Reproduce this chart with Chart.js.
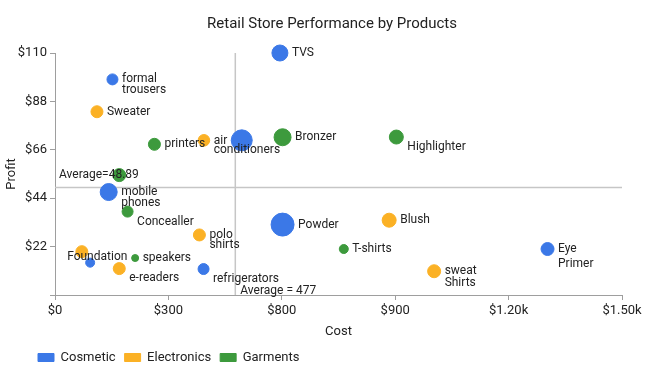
<!DOCTYPE html>
<html>
<head>
<meta charset="utf-8">
<script src="https://cdn.jsdelivr.net/npm/chart.js@4"></script>
<style>
  html, body { margin: 0; padding: 0; background: #fff; }
</style>
</head>
<body>
<canvas id="chart" width="650" height="378"></canvas>
<script>
// ---- data ----
const categories = ['Cosmetic', 'Electronics', 'Garments'];

const cosmeticNames  = ['TVS', 'formal\ntrousers', '', 'mobile\nphones', 'Foundation', 'refrigerators', 'Powder', 'Eye\nPrimer'];
const cosmeticCost   = [595, 152, 494, 142, 93, 393, 602, 1303];
const cosmeticProfit = [110, 98, 70.3, 46.8, 14.7, 11.8, 32, 20.9];
const cosmeticVolume = [80, 55, 105, 85, 45, 55, 115, 65];

const electronicsNames  = ['Sweater', 'air\nconditioners', 'polo\nshirts', '', 'e-readers', 'Blush', 'sweat\nShirts'];
const electronicsCost   = [111, 394, 382, 71, 170, 884, 1003];
const electronicsProfit = [83.3, 70.3, 27.3, 19.7, 12, 34, 10.8];
const electronicsVolume = [60, 58, 60, 60, 60, 70, 65];

const garmentsNames  = ['printers', 'Bronzer', 'Highlighter', '', 'Concealler', 'speakers', 'T-shirts'];
const garmentsCost   = [263, 602, 903, 170, 192, 212, 764];
const garmentsProfit = [68.5, 71.7, 71.8, 54.5, 37.9, 16.8, 20.9];
const garmentsVolume = [60, 85, 70, 65, 55, 35, 45];

const xTickLabels = ['$0', '$300', '$800', '$900', '$1.20k', '$1.50k'];
const yTickLabels = ['', '$22', '$44', '$66', '$88', '$110'];

const avgCost = 477;
const avgProfit = 48.89;

// ---- styling ----
const colors = ['#3b78e7', '#fbb125', '#3d9a3d'];
const allNames = [cosmeticNames, electronicsNames, garmentsNames];

// label tweaks where the reference doesn't put text straight to the right
const nudges = {
  'air conditioners': { dy: 1, lh: 9 },
  'Highlighter': { dy: 10 },
  'Concealler': { dy: 10 },
  'Foundation': { dx: -23, dy: -6 },
  'e-readers': { dy: 9 },
  'refrigerators': { dy: 10 },
  'sweat Shirts': { lh: 11.5 },
  'Eye Primer': { lh: 15 }
};

function points(cost, profit, volume) {
  return cost.map((c, i) => ({ x: c, y: profit[i], r: volume[i] / 10 }));
}

Chart.defaults.font.family = 'Roboto';
Chart.defaults.color = '#222';

const overlay = {
  id: 'overlay',
  afterLayout(chart) {
    // let the y axis labels and title use the space left of the layout padding
    chart.scales.y.left = 4;
  },
  beforeDatasetsDraw(chart) {
    const { ctx, chartArea: a, scales: { x, y } } = chart;
    const px = x.getPixelForValue(avgCost);
    const py = y.getPixelForValue(avgProfit);
    ctx.save();
    ctx.strokeStyle = '#c6c6c6';
    ctx.lineWidth = 1.5;
    ctx.beginPath();
    ctx.moveTo(px, a.top); ctx.lineTo(px, a.bottom);
    ctx.moveTo(a.left, py); ctx.lineTo(a.right, py);
    ctx.stroke();
    ctx.restore();
  },
  afterDatasetsDraw(chart) {
    const { ctx, chartArea: a, scales: { x, y } } = chart;
    ctx.save();
    ctx.font = '12px Roboto';
    ctx.fillStyle = '#222';
    ctx.textAlign = 'left';
    ctx.textBaseline = 'middle';

    // bubble labels
    chart.data.datasets.forEach((ds, di) => {
      const meta = chart.getDatasetMeta(di);
      meta.data.forEach((el, i) => {
        const text = allNames[di][i];
        if (!text) return;
        const n = nudges[text.replace('\n', ' ')] || {};
        const r = ds.data[i].r;
        const lx = el.x + (n.dx !== undefined ? n.dx : r + 4);
        const ly = el.y + (n.dy || 0);
        text.split('\n').forEach((ln, k) => ctx.fillText(ln, lx, ly + k * (n.lh || 10.5)));
      });
    });

    // average labels
    const px = x.getPixelForValue(avgCost);
    const py = y.getPixelForValue(avgProfit);
    ctx.fillText('Average=' + avgProfit, a.left + 4, py - 12.5);
    ctx.fillText('Average = ' + avgCost, px + 5, a.bottom - 4);
    ctx.restore();
  }
};

new Chart(document.getElementById('chart'), {
  type: 'bubble',
  data: {
    datasets: [
      { label: categories[0], data: points(cosmeticCost, cosmeticProfit, cosmeticVolume) },
      { label: categories[1], data: points(electronicsCost, electronicsProfit, electronicsVolume) },
      { label: categories[2], data: points(garmentsCost, garmentsProfit, garmentsVolume) }
    ].map((d, i) => Object.assign(d, {
      backgroundColor: colors[i],
      borderColor: colors[i],
      borderWidth: 1,
      clip: false
    }))
  },
  options: {
    responsive: false,
    animation: false,
    layout: { padding: { left: 29, right: 15, top: 0, bottom: 4 } },
    plugins: {
      title: {
        display: true,
        text: 'Retail Store Performance by Products',
        font: { size: 15, weight: 'normal' },
        color: '#222',
        padding: { top: 15, bottom: 20 }
      },
      legend: {
        position: 'bottom',
        align: 'start',
        labels: { boxWidth: 16, boxHeight: 8, padding: 9, font: { size: 13 }, color: '#222' }
      },
      tooltip: { enabled: false }
    },
    scales: {
      x: {
        type: 'linear',
        min: 0,
        max: 1500,
        ticks: {
          stepSize: 300,
          font: { size: 13 },
          color: '#222',
          padding: 3,
          maxRotation: 0,
          callback: (v, i) => xTickLabels[i]
        },
        grid: { drawOnChartArea: false, tickLength: 5, color: '#9e9e9e' },
        border: { color: '#9e9e9e' },
        title: { display: true, text: 'Cost', font: { size: 13 }, color: '#222', padding: { top: 0, bottom: 2 } },
        afterFit: s => { s.height = 47; s.paddingRight = 28; }
      },
      y: {
        min: 0,
        max: 110,
        ticks: {
          stepSize: 22,
          font: { size: 13 },
          color: '#222',
          padding: 3,
          callback: (v, i) => yTickLabels[i]
        },
        grid: { drawOnChartArea: false, tickLength: 5, color: '#9e9e9e' },
        border: { color: '#9e9e9e' },
        title: { display: true, text: 'Profit', font: { size: 13 }, color: '#222', padding: { top: 0, bottom: 0 } },
        afterFit: s => { s.width = 26; }
      }
    }
  },
  plugins: [overlay]
});
</script>
</body>
</html>
